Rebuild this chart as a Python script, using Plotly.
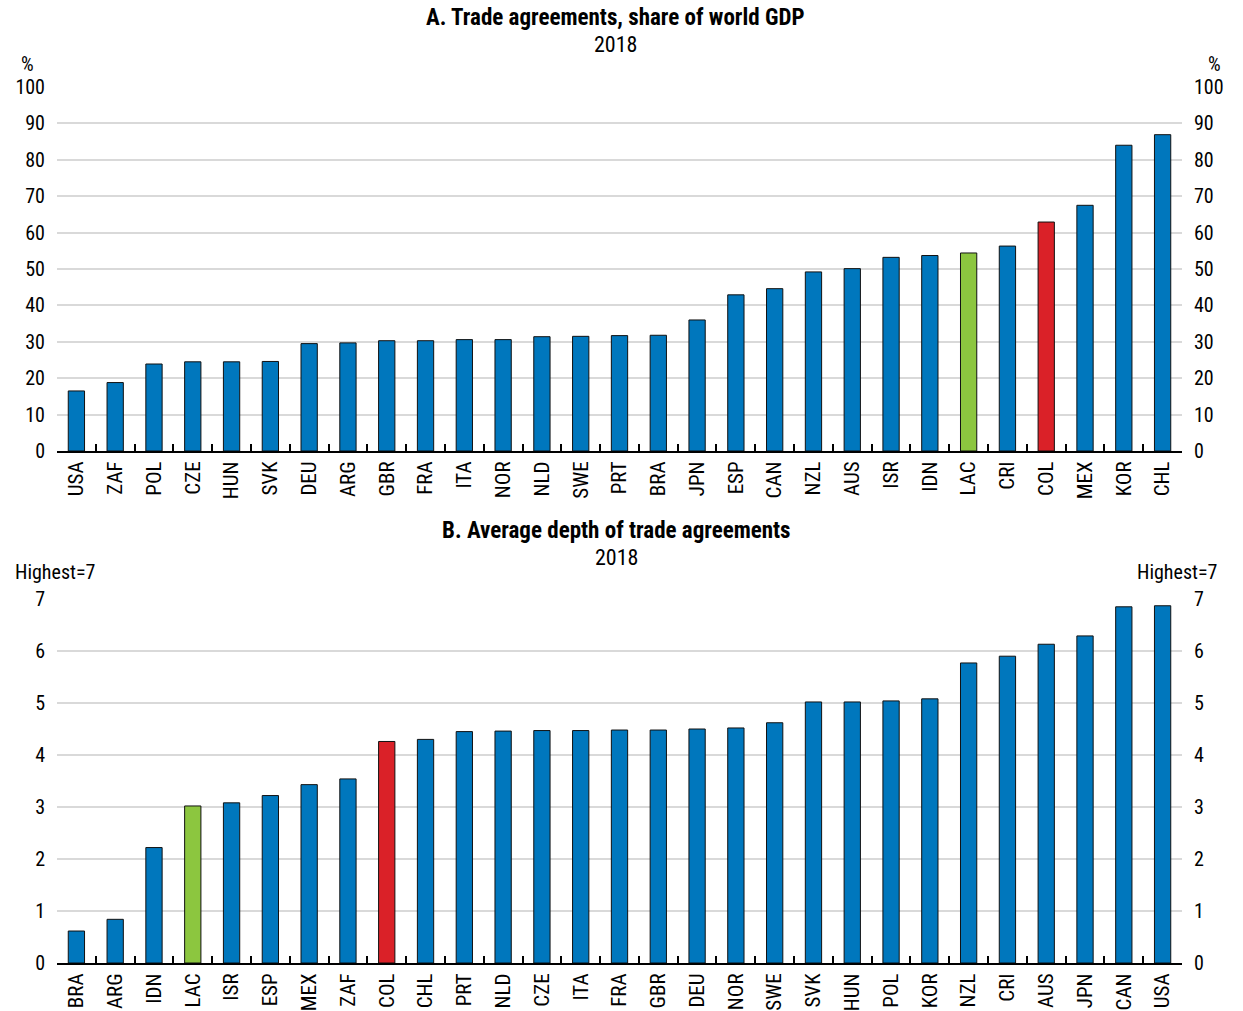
import plotly.graph_objects as go

# Panel A: trade agreements, share of world GDP (%), 2018
countries_a = ["USA", "ZAF", "POL", "CZE", "HUN", "SVK", "DEU", "ARG", "GBR", "FRA",
               "ITA", "NOR", "NLD", "SWE", "PRT", "BRA", "JPN", "ESP", "CAN", "NZL",
               "AUS", "ISR", "IDN", "LAC", "CRI", "COL", "MEX", "KOR", "CHL"]
share_gdp = [16.5, 18.8, 23.9, 24.5, 24.5, 24.6, 29.5, 29.7, 30.3, 30.3,
             30.6, 30.6, 31.4, 31.5, 31.7, 31.8, 36.0, 42.9, 44.6, 49.2,
             50.1, 53.2, 53.7, 54.4, 56.3, 62.9, 67.5, 84.0, 86.9]

# Panel B: average depth of trade agreements (highest = 7), 2018
countries_b = ["BRA", "ARG", "IDN", "LAC", "ISR", "ESP", "MEX", "ZAF", "COL", "CHL",
               "PRT", "NLD", "CZE", "ITA", "FRA", "GBR", "DEU", "NOR", "SWE", "SVK",
               "HUN", "POL", "KOR", "NZL", "CRI", "AUS", "JPN", "CAN", "USA"]
depth = [0.615, 0.84, 2.22, 3.02, 3.08, 3.22, 3.43, 3.54, 4.26, 4.30,
         4.45, 4.46, 4.47, 4.47, 4.48, 4.48, 4.50, 4.52, 4.62, 5.02,
         5.02, 5.04, 5.08, 5.77, 5.90, 6.13, 6.29, 6.85, 6.87]

ticks_a = [0, 10, 20, 30, 40, 50, 60, 70, 80, 90, 100]
ticks_b = [0, 1, 2, 3, 4, 5, 6, 7]

BLUE, GREEN, RED = "#0077bd", "#8cc63f", "#da2128"
FONT = "Roboto"
W, H = 1243, 1011


def cond(s):
    """Wrap a label so it is set in the condensed width of the font."""
    return f'<span style="font-stretch:condensed">{s}</span>'


def bar_colors(cats):
    return [GREEN if c == "LAC" else RED if c == "COL" else BLUE for c in cats]


def py(pix):
    """Convert a pixel row (from top) to paper y."""
    return 1 - pix / H


x_dom = [57 / W, 1182 / W]
dom_a = [py(451), py(87)]
dom_b = [py(963), py(599)]
x_range = [-0.5, len(countries_a) - 0.5]

fig = go.Figure()

fig.add_trace(go.Bar(x=countries_a, y=share_gdp, marker_color=bar_colors(countries_a),
                     marker_line=dict(color="#111111", width=1),
                     xaxis="x", yaxis="y", showlegend=False))
fig.add_trace(go.Scatter(x=[countries_a[0]], y=[0], mode="markers", marker_opacity=0,
                         xaxis="x", yaxis="y2", showlegend=False, hoverinfo="skip"))
fig.add_trace(go.Bar(x=countries_b, y=depth, marker_color=bar_colors(countries_b),
                     marker_line=dict(color="#111111", width=1),
                     xaxis="x2", yaxis="y3", showlegend=False))
fig.add_trace(go.Scatter(x=[countries_b[0]], y=[0], mode="markers", marker_opacity=0,
                         xaxis="x2", yaxis="y4", showlegend=False, hoverinfo="skip"))

xfont = dict(family=FONT, size=21, color="#000")
yfont = dict(family=FONT, size=20, color="#000")

xcommon = dict(type="category", domain=x_dom, range=x_range, tickangle=-90,
               tickfont=xfont, automargin=False,
               showline=True, linecolor="#000", linewidth=2, ticks="inside",
               tickson="boundaries", ticklen=7, tickwidth=2, tickcolor="#000",
               showgrid=False, zeroline=False, fixedrange=True)

ycommon = dict(showgrid=True, gridcolor="#d9d9d9", gridwidth=2, zeroline=False,
               showline=False, ticks="", tickfont=yfont, ticklabelstandoff=11,
               automargin=False, fixedrange=True)

ya = dict(domain=dom_a, range=[0, 100], tickvals=ticks_a,
          ticktext=[cond(t) for t in ticks_a])
yb = dict(domain=dom_b, range=[0, 7], tickvals=ticks_b,
          ticktext=[cond(t) for t in ticks_b])

fig.update_layout(
    width=W, height=H,
    margin=dict(l=0, r=0, t=0, b=0, autoexpand=False),
    plot_bgcolor="white", paper_bgcolor="white",
    bargap=0.58,
    font=dict(family=FONT, color="#000"),
    xaxis=dict(**xcommon, anchor="y", tickvals=countries_a,
               ticktext=[cond(c) for c in countries_a]),
    yaxis=dict(**ycommon, **ya, anchor="x"),
    yaxis2=dict(**{**ycommon, "showgrid": False}, **ya, overlaying="y", side="right",
                anchor="x"),
    xaxis2=dict(**xcommon, anchor="y3", tickvals=countries_b,
                ticktext=[cond(c) for c in countries_b]),
    yaxis3=dict(**ycommon, **yb, anchor="x2"),
    yaxis4=dict(**{**ycommon, "showgrid": False}, **yb, overlaying="y3", side="right",
                anchor="x2"),
)

titles = [
    dict(text=cond("<b>A. Trade agreements, share of world GDP</b>"), x=615 / W,
         y=py(18), size=23),
    dict(text=cond("2018"), x=615 / W, y=py(45), size=22),
    dict(text=cond("<b>B. Average depth of trade agreements</b>"), x=616 / W,
         y=py(530), size=23),
    dict(text=cond("2018"), x=616 / W, y=py(557), size=22),
]
for a in titles:
    size = a.pop("size")
    fig.add_annotation(xref="paper", yref="paper", showarrow=False, xanchor="center",
                       yanchor="middle", font=dict(family=FONT, size=size, color="#000"),
                       **a)

unit_labels = [
    dict(text=cond("%"), x=27 / W, y=py(64), xanchor="center"),
    dict(text=cond("%"), x=1214 / W, y=py(64), xanchor="center"),
    dict(text=cond("Highest=7"), x=13 / W, y=py(572), xanchor="left"),
    dict(text=cond("Highest=7"), x=1219 / W, y=py(572), xanchor="right"),
]
for a in unit_labels:
    fig.add_annotation(xref="paper", yref="paper", showarrow=False, yanchor="middle",
                       font=dict(family=FONT, size=20, color="#000"), **a)

fig.write_html("out.html")
